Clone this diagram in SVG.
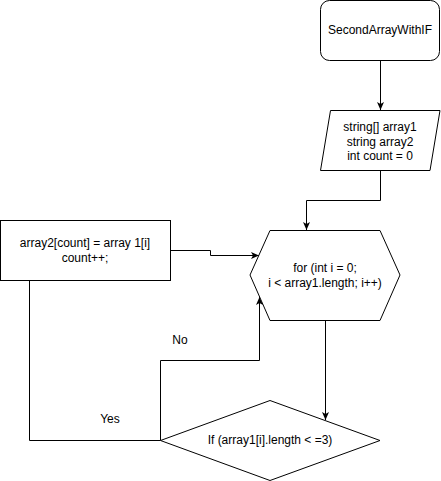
<svg xmlns="http://www.w3.org/2000/svg" width="441" height="481" viewBox="0 0 441 481">
<defs>
<style>
.shape{fill:#fff;stroke:#000;stroke-width:1}
.edge{fill:none;stroke:#000;stroke-width:1}
text{font-family:"Liberation Sans",Arial,sans-serif;font-size:12px;fill:#000;text-anchor:middle;dominant-baseline:central}
</style>
<marker id="arr" viewBox="0 0 8 8" refX="8" refY="4" markerWidth="8" markerHeight="8" markerUnits="userSpaceOnUse" orient="auto">
<path d="M0,0.5 L8,4 L0,7.5 L2,4 z" fill="#000"/>
</marker>
</defs>
<rect width="441" height="481" fill="#fff"/>
<g id="connectors">
<path class="edge" d="M380.5,61 L380.5,110" marker-end="url(#arr)"/>
<path class="edge" d="M380.5,170 L380.5,200.5 L306.5,200.5 L306.5,230" marker-end="url(#arr)"/>
<path class="edge" d="M170.5,250.5 L210.5,250.5 L210.5,255.5 L259,255.5" marker-end="url(#arr)"/>
<path class="edge" d="M325.5,320.5 L325.5,420" marker-end="url(#arr)"/>
<path class="edge" d="M160.5,440.5 L160.5,360.5 L259.5,360.5 L259.5,297" marker-end="url(#arr)"/>
<path class="edge" d="M160.5,440.5 L29.5,440.5 L29.5,280.5"/>
<text x="180" y="340">No</text>
<text x="110" y="419">Yes</text>
</g>
<g id="start">
<rect class="shape" x="320.5" y="0.5" width="119" height="60" rx="9" ry="9"/>
<text x="380" y="30">SecondArrayWithIF</text>
</g>
<g id="input">
<polygon class="shape" points="330.5,110.5 440,110.5 430,170.5 320.5,170.5"/>
<text x="380" y="127">string[] array1</text>
<text x="380" y="141.5">string array2</text>
<text x="380" y="156">int count = 0</text>
</g>
<g id="loop">
<polygon class="shape" points="270,230.5 380,230.5 400,275 380,320.5 270,320.5 250,275"/>
<text x="325" y="268">for (int i = 0;</text>
<text x="325" y="283">i &lt; array1.length; i++)</text>
</g>
<g id="assign">
<rect class="shape" x="0.5" y="220.5" width="170" height="60"/>
<text x="85" y="243">array2[count] = array 1[i]</text>
<text x="85" y="258">count++;</text>
</g>
<g id="decision">
<polygon class="shape" points="270,400.5 380,440.5 270,480.5 160.5,440.5"/>
<text x="270" y="440">If (array1[i].length &lt; =3)</text>
</g>
</svg>
